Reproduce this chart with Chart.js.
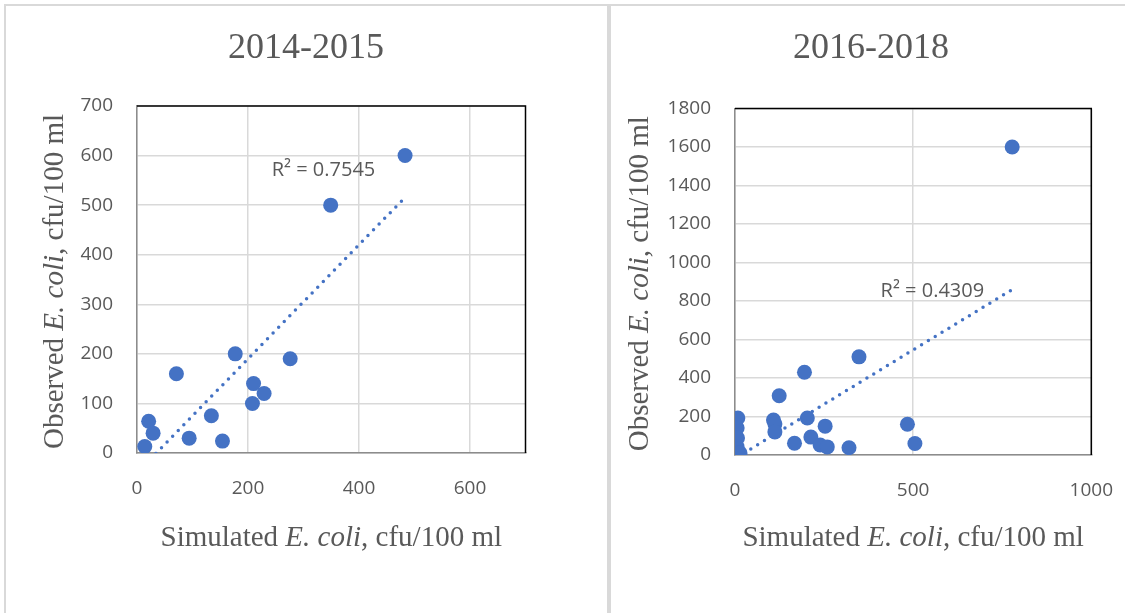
<!DOCTYPE html>
<html>
<head>
<meta charset="utf-8">
<script src="https://cdn.jsdelivr.net/npm/chart.js@4.4.1/dist/chart.umd.min.js"></script>
<style>
    html, body { margin: 0; padding: 0; background: #fff; }
    body { width: 1125px; height: 613px; position: relative; overflow: hidden; }
    .panel { position: absolute; top: 4px; height: 640px; border: 2px solid #d9d9d9; box-sizing: border-box; }
    #panel-left { left: 4px; width: 605px; }
    #panel-right { left: 609px; width: 560px; }
    .wrap { position: absolute; top: 0; height: 613px; }
    #wrap-left { left: 0; width: 609px; }
    #wrap-right { left: 609px; width: 528px; }
</style>
</head>
<body>
<div class="panel" id="panel-left"></div>
<div class="panel" id="panel-right"></div>
<div class="wrap" id="wrap-left"><canvas id="chart1415"></canvas></div>
<div class="wrap" id="wrap-right"><canvas id="chart1618"></canvas></div>
<script>
// data
const simulated1415 = [483, 349, 177, 276, 71, 210, 229, 208, 134, 21, 29, 94, 154, 14];
const observed1415  = [600, 500, 200, 190, 160, 140, 120, 100, 75, 64, 40, 30, 24, 13];

const simulated1618 = [778, 348, 195, 124, 203, 108, 112, 112, 253, 484, 505, 167, 213, 239, 259, 320, 8, 6, 7, 6, 10, 14];
const observed1618  = [1600, 510, 430, 308, 192, 182, 161, 120, 150, 160, 60, 61, 93, 52, 42, 38, 192, 140, 88, 42, 10, 10];

const r2Label1415 = 'R\u00B2 = 0.7545';
const r2Label1618 = 'R\u00B2 = 0.4309';

// axis ranges / tick steps
const xMax1415 = 700, xStep1415 = 200, yMax1415 = 700, yStep1415 = 100;
const xMax1618 = 1000, xStep1618 = 500, yMax1618 = 1800, yStep1618 = 200;

const BLUE = '#4472C4';
const TEXT = '#595959';
const SERIF = '"Liberation Serif", "Times New Roman", serif';
const SANS = '"Open Sans", "Liberation Sans", sans-serif';

function toPoints(xs, ys) {
    return xs.map((x, i) => ({ x: x, y: ys[i] }));
}

// least squares trendline, from min x to max x (like Excel)
function trendLine(xs, ys) {
    const n = xs.length;
    const mx = xs.reduce((a, b) => a + b, 0) / n;
    const my = ys.reduce((a, b) => a + b, 0) / n;
    let sxy = 0, sxx = 0;
    xs.forEach((x, i) => {
        sxy += (x - mx) * (ys[i] - my);
        sxx += (x - mx) * (x - mx);
    });
    const slope = sxy / sxx;
    const icpt = my - slope * mx;
    const x0 = Math.min(...xs), x1 = Math.max(...xs);
    return [{ x: x0, y: icpt + slope * x0 }, { x: x1, y: icpt + slope * x1 }];
}

function drawParts(ctx, parts, cx, cy) {
    let total = 0;
    parts.forEach(p => { ctx.font = p[1]; total += ctx.measureText(p[0]).width; });
    let x = cx - total / 2;
    ctx.textAlign = 'left';
    ctx.textBaseline = 'middle';
    parts.forEach(p => {
        ctx.font = p[1];
        ctx.fillText(p[0], x, cy);
        x += ctx.measureText(p[0]).width;
    });
}

// titles, axis titles, R² label, plot frame
const decorPlugin = {
    id: 'decor',
    afterDraw(chart, args, opts) {
        const ctx = chart.ctx;
        const a = chart.chartArea;
        const xs = chart.scales.x, ys = chart.scales.y;
        ctx.save();

        // frame: black top / right, grey axis lines
        ctx.lineWidth = 1.5;
        ctx.strokeStyle = '#000';
        ctx.beginPath();
        ctx.moveTo(a.left, a.top);
        ctx.lineTo(a.right, a.top);
        ctx.lineTo(a.right, a.bottom);
        ctx.stroke();

        ctx.fillStyle = TEXT;
        ctx.textAlign = 'center';
        ctx.textBaseline = 'middle';
        ctx.font = '36px ' + SERIF;
        ctx.fillText(opts.title, opts.titleX, 49);

        const normal = '29px ' + SERIF;
        const italic = 'italic 29px ' + SERIF;
        drawParts(ctx, [['Simulated ', normal], ['E. coli', italic], [', cfu/100 ml', normal]],
            (a.left + a.right) / 2, 538);

        ctx.save();
        ctx.translate(opts.yTitleX, (a.top + a.bottom) / 2 + 2);
        ctx.rotate(-Math.PI / 2);
        drawParts(ctx, [['Observed ', normal], ['E. coli', italic], [', cfu/100 ml', normal]], 0, 0);
        ctx.restore();

        ctx.font = '20px ' + SANS;
        ctx.textAlign = 'center';
        ctx.fillText(opts.r2, xs.getPixelForValue(opts.r2At[0]), ys.getPixelForValue(opts.r2At[1]));
        ctx.restore();
    }
};

function makeChart(id, xsData, ysData, cfg) {
    const ctx = document.getElementById(id).getContext('2d');
    return new Chart(ctx, {
        type: 'scatter',
        data: {
            datasets: [{
                data: toPoints(xsData, ysData),
                backgroundColor: BLUE,
                borderWidth: 0,
                pointRadius: 7.5,
                pointHoverRadius: 7.5
            }, {
                type: 'line',
                data: trendLine(xsData, ysData),
                borderColor: BLUE,
                borderWidth: 3.5,
                borderDash: [0, 8],
                borderCapStyle: 'round',
                pointRadius: 0,
                fill: false
            }]
        },
        options: {
            responsive: true,
            maintainAspectRatio: false,
            animation: false,
            layout: { padding: cfg.padding },
            plugins: {
                legend: { display: false },
                tooltip: { enabled: false },
                decor: cfg.decor
            },
            scales: {
                x: {
                    type: 'linear',
                    min: 0,
                    max: cfg.xMax,
                    grid: { color: '#d9d9d9', lineWidth: 1.5, drawTicks: false },
                    border: { color: '#8c8c8c', width: 1.5 },
                    ticks: {
                        stepSize: cfg.xStep, includeBounds: false, padding: 24, maxRotation: 0,
                        color: TEXT, font: { family: SANS, size: 19 },
                        callback: v => String(v)
                    },
                    afterFit: s => { s.height = 64; }
                },
                y: {
                    min: 0,
                    max: cfg.yMax,
                    grid: { color: '#d9d9d9', lineWidth: 1.5, drawTicks: false },
                    border: { color: '#8c8c8c', width: 1.5 },
                    ticks: {
                        stepSize: cfg.yStep, padding: 24,
                        color: TEXT, font: { family: SANS, size: 19 },
                        callback: v => String(v)
                    },
                    afterFit: s => { s.width = cfg.yWidth; }
                }
            }
        },
        plugins: [decorPlugin]
    });
}

makeChart('chart1415', simulated1415, observed1415, {
    xMax: xMax1415, xStep: xStep1415, yMax: yMax1415, yStep: yStep1415,
    yWidth: 137,
    padding: { left: 0, top: 106, right: 83.5, bottom: 96 },
    decor: { title: '2014-2015', titleX: 306, yTitleX: 55, r2: r2Label1415, r2At: [336, 571] }
});

// the "1000" label makes Chart.js reserve extra room on the right, so this canvas runs past the window edge
makeChart('chart1618', simulated1618, observed1618, {
    xMax: xMax1618, xStep: xStep1618, yMax: yMax1618, yStep: yStep1618,
    yWidth: 126,
    padding: { left: 0, top: 108.5, right: 22, bottom: 94 },
    decor: { title: '2016-2018', titleX: 262, yTitleX: 31, r2: r2Label1618, r2At: [554, 852] }
});
</script>
</body>
</html>
